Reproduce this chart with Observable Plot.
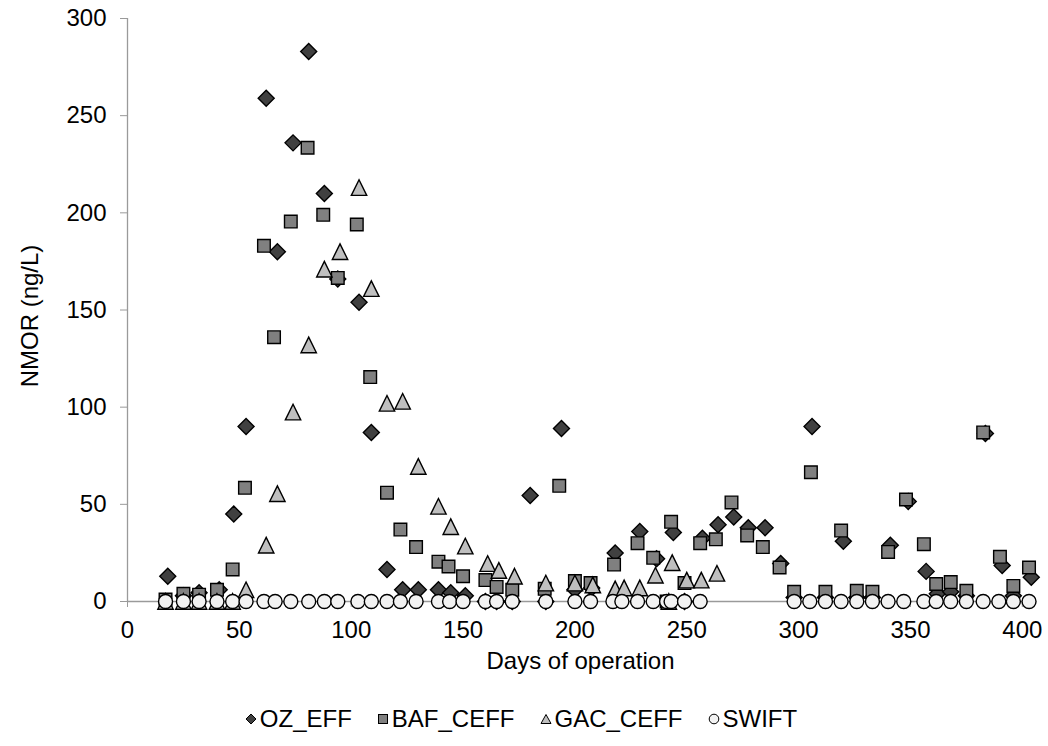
<!DOCTYPE html>
<html>
<head>
<meta charset="utf-8">
<script src="https://cdn.jsdelivr.net/npm/d3@7"></script>
<script src="https://cdn.jsdelivr.net/npm/@observablehq/plot@0.6"></script>
<style>
  html, body { margin: 0; padding: 0; background: #fff; }
  body { width: 1048px; height: 746px; overflow: hidden; font-family: "Liberation Sans", Arial, sans-serif; }
  #legend { display: flex; justify-content: center; align-items: center; gap: 25px; font-size: 24px; color: #000; height: 30px; margin-top: 9px; padding-right: 6px; }
  #legend .item { display: flex; align-items: center; gap: 3px; }
  #legend svg { display: block; }
</style>
</head>
<body>
<div id="chart"></div>
<div id="legend"></div>
<script>
// ---- data ----
const seriesNames = ["OZ_EFF", "BAF_CEFF", "GAC_CEFF", "SWIFT"];

const ozDays = [18,25,32,41,47.5,53,62,67,74,81,88,94,103.5,109,116,123,130,139,144.5,151,160,165,172,180,187,194,200,207.5,218,229,236.5,244,249,257,264,271,277.5,285,292,298,306,312,320,326,333,341,349,357,362,368,375,383.5,391,396,404];
const ozVals = [13,3,4.5,6,45,90,259,180,236,283,210,166,154,87,16.5,6,6,6,4.5,3,0,0,0,54.5,0,89,6,7,25,36,22,35.5,0,32.5,39.5,43.5,38,38,19.5,2,90,2,31,2,2,29,51.5,15.5,4,5,3,86.5,18.5,3,12.5];

const bafDays = [17,25,32,40,47,52.5,61,65.5,73,80.5,87.5,94,102.5,108.5,116,122,129,139,143.5,150,160,165,172,186.5,193,200,207,217.5,228,235,241,243,249,256,263,270,277,284,291.5,298,305.5,312,319,326,333,340,348,356,361.5,368,375,382.5,390,396,403];
const bafVals = [1,4,3.5,6,16.5,58.5,183,136,195.5,233.5,199,166.5,194,115.5,56,37,28,20.5,18,13,11,7.5,6,6.5,59.5,10.5,9.5,19,30,22.5,0,41,9.5,30,32,51,34,28,17.5,5,66.5,5,36.5,5.5,5,25.5,52.5,29.5,9,10,5.5,87,23,8,17.5];

const gacDays = [17,25,32,40,47,53,62,67,74,81,88,95,103.5,109,116,123,130,139,144.5,151,161,166,173,187,200,208,218,222,229,236,242,243.5,250,256.5,263.5];
const gacVals = [0,0,0,0,0,6,29,55.5,97.5,132,171,180,213,161,102,103,69.5,49,38.5,28.5,19.5,16,13,9.5,9.5,8.5,6.5,7,7,13.5,0,20,11,11,14.5];

const swiftDays = [17,25,32,40,47,53,61,66,73,81,88,94,103,109,116,122,129,139,144,150,160,165,172,187,200,207,217,221,228,235,241,243,249,256,298,305,312,319,326,333,340,347,356,361.5,368,375,382.5,389.5,396,403];
const swiftVals = swiftDays.map(() => 0);

const xTicks = [0,50,100,150,200,250,300,350,400];
const yTicks = [0,50,100,150,200,250,300];
const xLabel = "Days of operation";
const yLabel = "NMOR (ng/L)";

// ---- build tables ----
const toRows = (days, vals) => days.map((d, i) => ({day: d, value: vals[i]}));
const oz = toRows(ozDays, ozVals);
const baf = toRows(bafDays, bafVals);
const gac = toRows(gacDays, gacVals);
const swift = toRows(swiftDays, swiftVals);

// ---- marker shapes (Excel style) ----
const diamondSym = {draw(ctx) { const a = 8; ctx.moveTo(0,-a); ctx.lineTo(a,0); ctx.lineTo(0,a); ctx.lineTo(-a,0); ctx.closePath(); }};
const squareSym = {draw(ctx) { const a = 6.3; ctx.moveTo(-a,-a); ctx.lineTo(a,-a); ctx.lineTo(a,a); ctx.lineTo(-a,a); ctx.closePath(); }};
const triSym = {draw(ctx) { const w = 7.7, h = 7.8; ctx.moveTo(0,-h); ctx.lineTo(w,h); ctx.lineTo(-w,h); ctx.closePath(); }};

const fills = ["#404040", "#808080", "#bfbfbf", "#f2f2f2"];
const axisGray = "#9a9a9a";
const font = "Liberation Sans, Arial, sans-serif";

const chart = Plot.plot({
  width: 1048,
  height: 695,
  marginTop: 18,
  marginBottom: 94,
  marginLeft: 127,
  marginRight: 15,
  style: {fontFamily: font, fontSize: "24px", color: "#000", background: "white", overflow: "visible"},
  x: {domain: [0, 405]},
  y: {domain: [0, 300]},
  marks: [
    Plot.axisX(xTicks, {tickSize: 6, tickPadding: 13, stroke: axisGray, fill: "#000", fontSize: 24, label: null}),
    Plot.axisY(yTicks, {tickSize: 7, tickPadding: 14, stroke: axisGray, fill: "#000", fontSize: 24, label: null}),
    Plot.ruleY([0], {stroke: axisGray, strokeWidth: 1.3}),
    Plot.ruleX([0], {stroke: axisGray, strokeWidth: 1.3}),
    Plot.dot(oz, {x: "day", y: "value", symbol: diamondSym, r: 8, fill: fills[0], stroke: "#000", strokeWidth: 1.4}),
    Plot.dot(baf, {x: "day", y: "value", symbol: squareSym, r: 8, fill: fills[1], stroke: "#000", strokeWidth: 1.4}),
    Plot.dot(gac, {x: "day", y: "value", symbol: triSym, r: 8, fill: fills[2], stroke: "#000", strokeWidth: 1.4}),
    Plot.dot(swift, {x: "day", y: "value", symbol: "circle", r: 7, fill: fills[3], stroke: "#000", strokeWidth: 1.4}),
    Plot.text([xLabel], {text: d => d, frameAnchor: "bottom", textAnchor: "middle", dy: 67, fontSize: 24, fill: "#000"}),
    Plot.text([yLabel], {text: d => d, frameAnchor: "left", textAnchor: "middle", dx: -97, dy: 6, rotate: -90, fontSize: 24, fill: "#000"})
  ]
});
document.getElementById("chart").appendChild(chart);

// ---- legend ----
const legendShapes = [
  `<polygon points="6,1 11,6 6,11 1,6" fill="${fills[0]}" stroke="#000" stroke-width="1"/>`,
  `<rect x="1.5" y="1.5" width="9" height="9" fill="${fills[1]}" stroke="#000" stroke-width="1"/>`,
  `<polygon points="6,1.5 11,10.5 1,10.5" fill="${fills[2]}" stroke="#000" stroke-width="1"/>`,
  `<circle cx="6" cy="6" r="4.8" fill="${fills[3]}" stroke="#000" stroke-width="1"/>`
];
const legend = document.getElementById("legend");
seriesNames.forEach((name, i) => {
  const item = document.createElement("div");
  item.className = "item";
  item.innerHTML = `<svg width="12" height="12" viewBox="0 0 12 12">${legendShapes[i]}</svg><span>${name}</span>`;
  legend.appendChild(item);
});
</script>
</body>
</html>
